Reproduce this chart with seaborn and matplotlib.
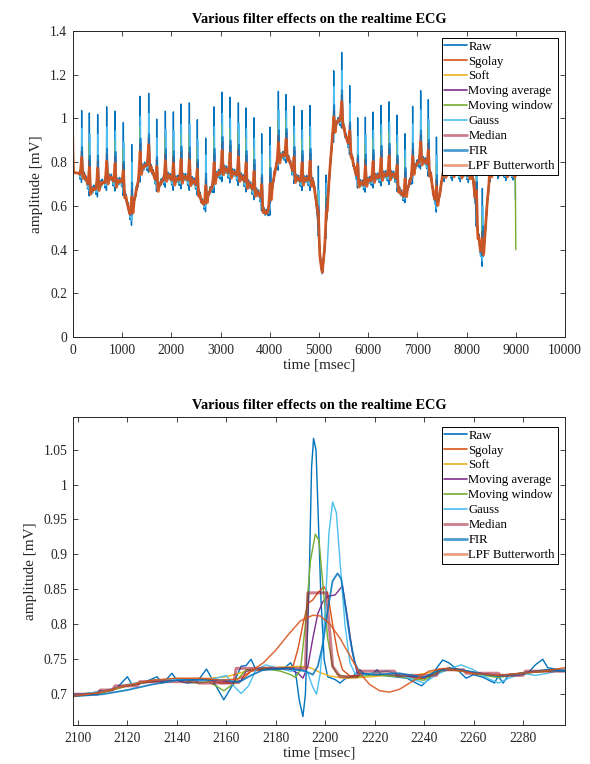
import numpy as np
import matplotlib
matplotlib.use("Agg")
import matplotlib.pyplot as plt
import seaborn as sns

# ---------------- data ----------------
series_names = ["Raw", "Sgolay", "Soft", "Moving average", "Moving window",
                "Gauss", "Median", "FIR", "LPF Butterworth"]

# zoomed window (bottom panel): knots
raw_t = [2098, 2102, 2106, 2109, 2112, 2116, 2120, 2122, 2126, 2130, 2132, 2134, 2136, 2138,
         2140, 2144, 2148, 2152, 2155, 2159, 2163, 2166, 2168, 2170, 2172, 2176, 2180, 2183,
         2186, 2188, 2189.5, 2191, 2192, 2193.5, 2194.5, 2195.3, 2196.3, 2197.2, 2198.3,
         2199.6, 2201, 2204, 2206, 2208, 2211, 2214, 2216, 2219, 2221, 2223, 2228, 2233,
         2239, 2242, 2245, 2247.5, 2250, 2253.5, 2257, 2260, 2264, 2268.5, 2270, 2272, 2274,
         2278, 2282, 2285, 2288, 2290, 2293, 2297]
raw_v = [0.700, 0.700, 0.702, 0.705, 0.704, 0.710, 0.725, 0.713, 0.716, 0.722, 0.725, 0.716, 0.722, 0.730,
         0.720, 0.716, 0.717, 0.736, 0.717, 0.692, 0.716, 0.740, 0.741, 0.750, 0.735, 0.735, 0.736, 0.736,
         0.745, 0.732, 0.692, 0.668, 0.700, 0.859, 1.025, 1.066, 1.049, 0.954, 0.835,
         0.749, 0.725, 0.721, 0.716, 0.722, 0.725, 0.735, 0.728, 0.729, 0.735, 0.727, 0.725, 0.723,
         0.712, 0.722, 0.737, 0.749, 0.745, 0.735, 0.723, 0.728, 0.724, 0.716, 0.726, 0.716, 0.727,
         0.727, 0.730, 0.742, 0.750, 0.738, 0.736, 0.735]

sgolay_t = [2098, 2110, 2120, 2130, 2140, 2150, 2158, 2165, 2170, 2180, 2185, 2187, 2189, 2191,
            2193, 2195, 2197, 2199.5, 2201, 2203, 2205, 2207, 2210, 2220, 2230, 2240, 2245, 2250,
            2255, 2260, 2270, 2280, 2290, 2297]
sgolay_v = [0.698, 0.703, 0.713, 0.720, 0.722, 0.722, 0.716, 0.716, 0.733, 0.737, 0.737, 0.740, 0.765, 0.800,
            0.830, 0.835, 0.845, 0.854, 0.845, 0.800, 0.760, 0.735, 0.726, 0.729, 0.727, 0.722, 0.733, 0.738,
            0.735, 0.731, 0.726, 0.731, 0.735, 0.734]

soft_t = [2098, 2110, 2120, 2130, 2140, 2150, 2160, 2168, 2175, 2185, 2190, 2194, 2198, 2202,
          2208, 2215, 2225, 2235, 2245, 2250, 2260, 2270, 2280, 2290, 2297]
soft_v = [0.699, 0.704, 0.713, 0.719, 0.722, 0.722, 0.725, 0.733, 0.738, 0.739, 0.740, 0.738, 0.731, 0.726,
          0.723, 0.724, 0.727, 0.726, 0.733, 0.735, 0.731, 0.727, 0.730, 0.733, 0.733]

mavg_t = [2098, 2110, 2120, 2130, 2140, 2150, 2158, 2163, 2166, 2168, 2175, 2185, 2189, 2191,
          2193, 2195, 2197, 2199, 2201, 2204, 2207, 2209, 2211, 2213, 2220, 2230, 2240, 2245,
          2250, 2260, 2270, 2280, 2290, 2297]
mavg_v = [0.699, 0.703, 0.712, 0.718, 0.721, 0.720, 0.719, 0.717, 0.720, 0.733, 0.737, 0.737, 0.730, 0.723,
          0.740, 0.780, 0.815, 0.832, 0.840, 0.842, 0.855, 0.810, 0.760, 0.730, 0.728, 0.726, 0.724, 0.730,
          0.736, 0.731, 0.727, 0.730, 0.734, 0.733]

mwin_t = [2098, 2110, 2120, 2130, 2140, 2148, 2153, 2159, 2163, 2168, 2175, 2182, 2186, 2188,
          2190, 2192, 2194, 2196, 2197.5, 2199, 2201, 2203, 2205, 2210, 2220, 2230, 2240, 2245,
          2250, 2256, 2262, 2270, 2280, 2290, 2297]
mwin_v = [0.697, 0.702, 0.712, 0.719, 0.722, 0.716, 0.718, 0.705, 0.715, 0.735, 0.737, 0.733, 0.728, 0.724,
          0.735, 0.800, 0.890, 0.929, 0.920, 0.860, 0.780, 0.740, 0.728, 0.724, 0.728, 0.725, 0.720, 0.731,
          0.735, 0.733, 0.728, 0.724, 0.730, 0.733, 0.733]

gauss_t = [2098, 2110, 2120, 2130, 2140, 2150, 2156, 2160, 2163, 2166, 2169, 2172, 2176, 2180,
           2186, 2190, 2193, 2195, 2196.5, 2198, 2200, 2201.5, 2203, 2204.5, 2206, 2208, 2210, 2212,
           2215, 2220, 2225, 2230, 2240, 2245, 2250, 2255, 2260, 2265, 2270, 2275, 2280, 2285,
           2290, 2297]
gauss_v = [0.699, 0.704, 0.714, 0.720, 0.721, 0.719, 0.723, 0.727, 0.712, 0.701, 0.712, 0.735, 0.742, 0.738,
           0.733, 0.736, 0.730, 0.710, 0.700, 0.730, 0.820, 0.930, 0.975, 0.960, 0.890, 0.800, 0.745, 0.730,
           0.727, 0.731, 0.733, 0.728, 0.716, 0.728, 0.736, 0.742, 0.735, 0.724, 0.716, 0.724, 0.730, 0.727,
           0.730, 0.736]

median_t = [2098, 2108, 2109, 2114, 2115, 2124, 2125, 2148, 2149, 2163, 2164, 2192, 2193, 2200.5,
            2203, 2206, 2213, 2214, 2228, 2229, 2245, 2246, 2256, 2257, 2270, 2271, 2280, 2281,
            2297]
median_v = [0.700, 0.700, 0.706, 0.706, 0.712, 0.712, 0.718, 0.718, 0.716, 0.716, 0.737, 0.737, 0.845, 0.845,
            0.740, 0.725, 0.725, 0.733, 0.733, 0.727, 0.727, 0.735, 0.735, 0.730, 0.730, 0.727, 0.727, 0.733,
            0.733]

fir_t = [2098, 2110, 2120, 2130, 2140, 2150, 2160, 2165, 2170, 2175, 2185, 2192, 2195, 2197,
         2199, 2201, 2203, 2205, 2206.5, 2208, 2210, 2212, 2214, 2220, 2230, 2240, 2245, 2250,
         2258, 2265, 2270, 2280, 2290, 2297]
fir_v = [0.697, 0.700, 0.706, 0.714, 0.720, 0.721, 0.720, 0.717, 0.727, 0.735, 0.737, 0.733, 0.728, 0.740,
         0.770, 0.820, 0.862, 0.873, 0.865, 0.830, 0.780, 0.745, 0.730, 0.728, 0.730, 0.724, 0.733, 0.737,
         0.733, 0.728, 0.726, 0.730, 0.735, 0.733]

lpf_t = [2098, 2110, 2120, 2130, 2140, 2150, 2158, 2165, 2170, 2175, 2180, 2185, 2190, 2195,
         2198, 2202, 2206, 2210, 2214, 2218, 2222, 2226, 2230, 2236, 2242, 2248, 2254, 2260,
         2270, 2280, 2290, 2297]
lpf_v = [0.697, 0.703, 0.713, 0.720, 0.723, 0.723, 0.720, 0.722, 0.733, 0.745, 0.763, 0.785, 0.805, 0.813,
         0.812, 0.800, 0.780, 0.755, 0.730, 0.714, 0.705, 0.703, 0.707, 0.720, 0.733, 0.737, 0.734, 0.730,
         0.727, 0.730, 0.734, 0.738]

# full record (top panel): baseline wander
base_t = [0, 40, 210, 380, 481, 617, 752, 888, 990, 1057, 1145, 1193, 1260, 1362, 1464, 1538,
          1633, 1735, 1836, 1938, 2040, 2141, 2277, 2412, 2514, 2616, 2683, 2785, 2920, 3056,
          3191, 3327, 3429, 3564, 3700, 3801, 3889, 3937, 4004, 4072, 4140, 4242, 4343, 4411,
          4513, 4648, 4784, 4885, 4953, 5001, 5041, 5068, 5122, 5177, 5224, 5272, 5360, 5427,
          5475, 5529, 5631, 5698, 5800, 5902, 6004, 6139, 6274, 6410, 6545, 6647, 6715, 6782,
          6849, 6951, 7053, 7188, 7269, 7324, 7391, 7446, 7513, 7700, 7900, 8103, 8137, 8171,
          8218, 8272, 8313, 8340, 8381, 8421, 8476, 8600, 8800, 8990]
base_v = [0.750, 0.752, 0.745, 0.668, 0.684, 0.706, 0.729, 0.706, 0.714, 0.653, 0.570, 0.555, 0.638, 0.760, 0.782, 0.798,
          0.745, 0.684, 0.722, 0.737, 0.714, 0.722, 0.729, 0.714, 0.699, 0.615, 0.608, 0.668, 0.737, 0.767,
          0.752, 0.744, 0.729, 0.699, 0.668, 0.646, 0.570, 0.565, 0.608, 0.714, 0.798, 0.828, 0.836, 0.798,
          0.729, 0.714, 0.722, 0.707, 0.608, 0.441, 0.319, 0.296, 0.425, 0.623, 0.775, 0.912, 0.980, 0.995,
          1.000, 0.927, 0.866, 0.790, 0.706, 0.699, 0.714, 0.729, 0.737, 0.744, 0.737, 0.661, 0.646, 0.661,
          0.714, 0.775, 0.813, 0.798, 0.745, 0.653, 0.608, 0.638, 0.745, 0.750, 0.745, 0.740, 0.714, 0.638,
          0.501, 0.410, 0.365, 0.380, 0.486, 0.623, 0.745, 0.760, 0.750, 0.745]

# R-peak times and raw peak amplitudes
beat_t = [176, 332, 501, 684, 854, 1023, 1193, 1362, 1538, 1701, 1877, 2040, 2195, 2365, 2527,
          2697, 2866, 3029, 3191, 3361, 3517, 3679, 3835, 4004, 4174, 4330, 4492, 4655, 4818,
          4987, 5143, 5299, 5461, 5624, 5786, 5942, 6098, 6261, 6424, 6586, 6748, 6903, 7066,
          7222, 7387, 7550, 7713, 7876, 8040, 8200, 8320, 8480, 8640, 8800, 8950]
beat_peak = [1.036, 1.025, 1.018, 1.053, 1.033, 0.981, 0.881, 1.101, 1.115, 0.997, 1.033, 1.030, 1.066, 1.071, 0.994,
             0.910, 1.053, 1.120, 1.097, 1.071, 1.048, 1.003, 0.930, 0.960, 1.124, 1.109, 1.056, 1.036, 1.059,
             0.782, 0.741, 1.218, 1.302, 1.150, 1.003, 1.006, 1.029, 1.059, 1.076, 1.015, 0.930, 1.056, 1.127,
             1.086, 0.915, 1.000, 1.000, 1.000, 1.000, 0.980, 0.680, 1.000, 1.000, 1.000, 0.950]

# edge artefacts
raw_start_v = 0.0
sgolay_start_t = [0, 10, 25]
sgolay_start_v = [1.020, 0.860, 0.760]
raw_end_t, raw_end_v = 8992, 0.630
mwin_end_t, mwin_end_v = 9000, 0.400

xt_top = [0, 1000, 2000, 3000, 4000, 5000, 6000, 7000, 8000, 9000, 10000]
yt_top = [0, 0.2, 0.4, 0.6, 0.8, 1.0, 1.2, 1.4]
yt_top_lbl = ["0", "0.2", "0.4", "0.6", "0.8", "1", "1.2", "1.4"]
xt_bot = [2100, 2120, 2140, 2160, 2180, 2200, 2220, 2240, 2260, 2280]
yt_bot = [0.7, 0.75, 0.8, 0.85, 0.9, 0.95, 1.0, 1.05]
yt_bot_lbl = ["0.7", "0.75", "0.8", "0.85", "0.9", "0.95", "1", "1.05"]

title = "Various filter effects on the realtime ECG"
xlab = "time [msec]"
ylab = "amplitude [mV]"

# ---------------- style ----------------
colors = ["#0072BD", "#D95319", "#EDB120", "#7E2F8E", "#77AC30",
          "#4DBEEE", "#A2142F", "#0072BD", "#D95319"]
widths_top = [1.0, 1.0, 1.0, 1.0, 1.0, 1.0, 1.4, 1.3, 2.0]
alphas_top = [1, 1, 1, 1, 1, 1, 0.45, 0.7, 0.9]
widths_bot = [1.0, 1.0, 1.0, 1.0, 1.0, 1.0, 2.2, 1.3, 1.1]
alphas_bot = [1, 1, 1, 1, 1, 1, 0.55, 0.85, 0.85]

sns.set_theme(style="ticks")
plt.rcParams["font.family"] = ["Liberation Serif", "DejaVu Serif"]
plt.rcParams["axes.linewidth"] = 0.7

knots = {
    "Raw": (raw_t, raw_v), "Sgolay": (sgolay_t, sgolay_v), "Soft": (soft_t, soft_v),
    "Moving average": (mavg_t, mavg_v), "Moving window": (mwin_t, mwin_v),
    "Gauss": (gauss_t, gauss_v), "Median": (median_t, median_v),
    "FIR": (fir_t, fir_v), "LPF Butterworth": (lpf_t, lpf_v),
}

# ---------------- build full-record traces ----------------
grid = np.arange(0, 8991)
base = np.interp(grid, base_t, base_v)
ref = raw_t[int(np.argmax(raw_v))]
win = np.arange(-55, 96)
base_ref = np.interp(ref + win, base_t, base_v)
tpl_height = max(raw_v) - np.interp(ref, base_t, base_v)

full = {}
for name in series_names:
    st, sv = knots[name]
    tpl = np.interp(ref + win, st, sv) - base_ref
    y = base.copy()
    for T, P in zip(beat_t, beat_peak):
        sc = (P - np.interp(T, base_t, base_v)) / tpl_height
        idx = T + win
        m = (idx >= 0) & (idx < len(grid))
        y[idx[m]] += sc * tpl[m]
    x = grid.astype(float)
    if name == "Raw":
        y[0] = raw_start_v
        x = np.append(x, raw_end_t)
        y = np.append(y, raw_end_v)
    if name == "Sgolay":
        n = sgolay_start_t[-1]
        y[:n] = np.interp(grid[:n], sgolay_start_t, sgolay_start_v)
    if name == "Moving window":
        x = np.append(x, mwin_end_t)
        y = np.append(y, mwin_end_v)
    full[name] = (x, y)

# ---------------- figure ----------------
W, H = 590, 764
fig = plt.figure(figsize=(W / 100, H / 100), dpi=100)
ax1 = fig.add_axes([73 / W, (H - 337) / H, 492 / W, 306 / H])
ax2 = fig.add_axes([73 / W, (H - 725) / H, 492 / W, 308 / H])

for i, name in enumerate(series_names):
    x, y = full[name]
    sns.lineplot(x=x, y=y, ax=ax1, color=colors[i], lw=widths_top[i], alpha=alphas_top[i],
                 label=name, estimator=None, sort=False, errorbar=None)
    st, sv = knots[name]
    sns.lineplot(x=st, y=sv, ax=ax2, color=colors[i], lw=widths_bot[i], alpha=alphas_bot[i],
                 label=name, estimator=None, sort=False, errorbar=None)

tick_col = "#262626"
for ax in (ax1, ax2):
    for s in ax.spines.values():
        s.set_color(tick_col)
        s.set_linewidth(0.7)
    ax.tick_params(direction="in", top=True, right=True, length=3.5, width=0.6,
                   colors=tick_col, labelsize=9.8, pad=4)
    ax.tick_params(axis="x", pad=5)
    ax.set_title(title, fontsize=10.3, fontweight="bold", color="black", pad=6)
    ax.set_xlabel(xlab, fontsize=11, color=tick_col, labelpad=1)
    ax.set_ylabel(ylab, fontsize=11, color=tick_col, labelpad=5)

ax1.set_xlim(0, 10000)
ax1.set_ylim(0, 1.4)
ax1.set_xticks(xt_top)
ax1.set_xticklabels([str(v) for v in xt_top])
ax1.set_yticks(yt_top)
ax1.set_yticklabels(yt_top_lbl)

ax2.set_xlim(2098, 2297)
ax2.set_ylim(0.656, 1.0966)
ax2.set_xticks(xt_bot)
ax2.set_xticklabels([str(v) for v in xt_bot])
ax2.set_yticks(yt_bot)
ax2.set_yticklabels(yt_bot_lbl)

legend_alpha = [1, 1, 1, 1, 1, 1, 0.55, 0.7, 0.55]
legend_width = [1.2, 1.2, 1.2, 1.2, 1.2, 1.2, 2.0, 2.0, 2.0]
for ax, anchor in ((ax1, (0.9848, 0.977)), (ax2, (0.9848, 0.9675))):
    h, l = ax.get_legend_handles_labels()
    leg = ax.legend(h, l, loc="upper right", bbox_to_anchor=anchor, borderaxespad=0,
                    prop={"family": "Liberation Serif", "size": 9.2},
                    frameon=True, fancybox=False, framealpha=1, edgecolor="black",
                    handlelength=1.75, handletextpad=0.15, labelspacing=0.23,
                    borderpad=0.2)
    leg.get_frame().set_linewidth(0.7)
    for t in leg.get_texts():
        t.set_color("black")
    for j, ln in enumerate(leg.get_lines()):
        ln.set_alpha(legend_alpha[j])
        ln.set_linewidth(legend_width[j])

fig.savefig("out.png", dpi=100, facecolor="white")
